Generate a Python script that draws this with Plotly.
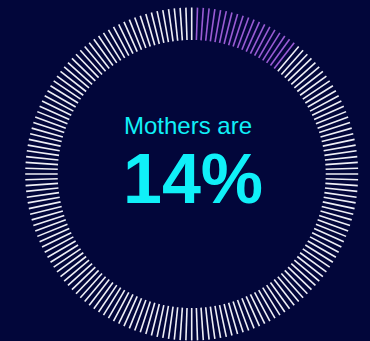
import numpy as np
import plotly.graph_objects as go

# ---- data ----
tick_count = 180                 # number of radial ticks around the ring
highlight_ticks = list(range(1, 20))   # tick indices drawn in purple (clockwise from top)
label_top = "Mothers are"
label_value = "14%"

# ---- style ----
BG = "#02063a"
WHITE = "#eeeef6"
PURPLE = "#9a5cd4"
CYAN = "#10f0f8"
W, H = 370, 341
cx, cy = 191.7, 174.0
r_in, r_out = 134.0, 166.5

def segs(indices):
    xs, ys = [], []
    for i in indices:
        a = np.deg2rad(i * 360.0 / tick_count)
        xs += [cx + r_in * np.sin(a), cx + r_out * np.sin(a), None]
        ys += [cy - r_in * np.cos(a), cy - r_out * np.cos(a), None]
    return xs, ys

hl = set(highlight_ticks)
white_idx = [i for i in range(tick_count) if i not in hl]
wx, wy = segs(white_idx)
px, py = segs(highlight_ticks)

fig = go.Figure()
fig.add_trace(go.Scatter(x=wx, y=wy, mode="lines", line=dict(color=WHITE, width=1.6),
                         hoverinfo="skip", showlegend=False))
fig.add_trace(go.Scatter(x=px, y=py, mode="lines", line=dict(color=PURPLE, width=1.6),
                         hoverinfo="skip", showlegend=False))

fig.add_annotation(x=122, y=125.8, text=label_top, showarrow=False, xanchor="left", yanchor="middle",
                   font=dict(family="Liberation Sans, Arial", size=24, color=CYAN))
fig.add_annotation(x=121, y=179, text="<b>%s</b>" % label_value, showarrow=False, xanchor="left",
                   yanchor="middle",
                   font=dict(family="Liberation Sans, Arial", size=70, color=CYAN))

fig.update_layout(width=W, height=H, margin=dict(l=0, r=0, t=0, b=0),
                  paper_bgcolor=BG, plot_bgcolor=BG,
                  xaxis=dict(range=[0, W], visible=False, fixedrange=True),
                  yaxis=dict(range=[H, 0], visible=False, fixedrange=True))
fig.write_html("out.html", config={"displayModeBar": False})
